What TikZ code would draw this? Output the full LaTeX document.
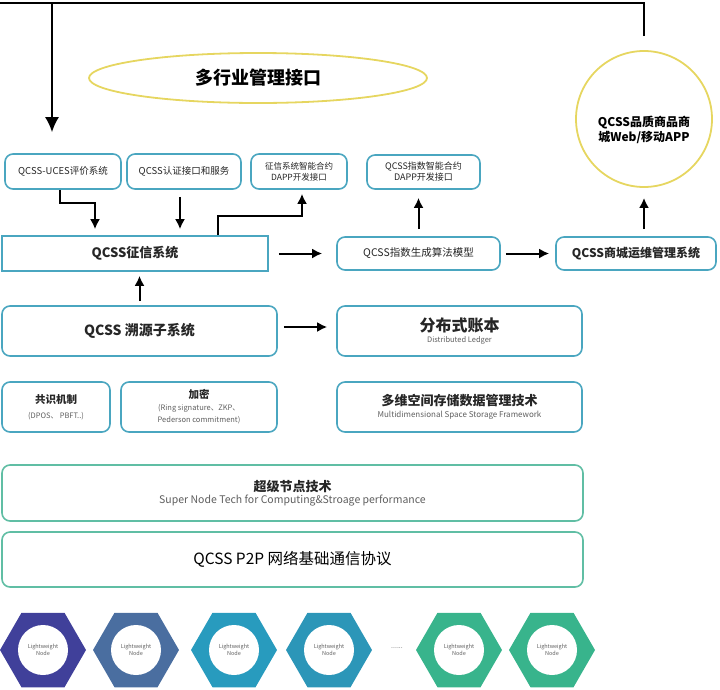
\documentclass[tikz,border=0pt]{standalone}
\usepackage{fontspec}
\setmainfont{Noto Sans CJK SC}
\usetikzlibrary{arrows.meta,shapes.geometric}

\definecolor{boxblue}{RGB}{74,166,192}
\definecolor{boxgreen}{RGB}{96,190,164}
\definecolor{ringyellow}{RGB}{230,214,96}
\definecolor{subgray}{RGB}{95,95,95}
\definecolor{hexA}{RGB}{64,64,154}
\definecolor{hexB}{RGB}{74,110,160}
\definecolor{hexC}{RGB}{40,155,190}
\definecolor{hexD}{RGB}{44,150,184}
\definecolor{hexE}{RGB}{56,180,140}

\newcommand{\fsz}[2]{\fontsize{#1}{#2}\selectfont}

\tikzset{
  card/.style={draw=boxblue, line width=1.6pt, rounded corners=8pt, fill=white,
    inner sep=1pt, align=center, text=black!85},
  basecard/.style={card, draw=boxgreen},
  flow/.style={->, line width=2pt},
  subtext/.style={text=subgray},
}

\begin{document}
\begin{tikzpicture}[x=1pt, y=-1pt, >={Latex[length=10pt,width=10pt]}]
    \useasboundingbox (0,0) rectangle (720,689);

    % 1. 顶部：多行业管理接口（椭圆）与商城（圆）
    \node[ellipse, draw=ringyellow, line width=1.8pt, minimum width=338pt, minimum height=50pt,
        inner sep=0pt, font=\fsz{18}{22}\bfseries] (mgmt) at (258,78) {多行业管理接口};
    \node[circle, draw=ringyellow, line width=1.8pt, minimum size=136pt, inner sep=0pt] (app) at (644,119) {};
    \node[align=center, font=\fsz{12}{15}\bfseries] (apptext) at (644,130) {QCSS品质商品商\\城Web/移动APP};

    % 2. 第一排接口方框
    \node[card, minimum width=116pt, minimum height=35pt, font=\fsz{9.5}{12}] (uces) at (63,171.5) {QCSS-UCES评价系统};
    \node[card, minimum width=114pt, minimum height=35pt, font=\fsz{9.5}{12}] (auth) at (184,171.5) {QCSS认证接口和服务};
    \node[card, minimum width=96pt, minimum height=35pt, font=\fsz{8.5}{11}] (zxdapp) at (299,171.5) {征信系统智能合约\\DAPP开发接口};
    \node[card, minimum width=113pt, minimum height=34pt, font=\fsz{9}{11}] (zsdapp) at (423.5,172) {QCSS指数智能合约\\DAPP开发接口};

    % 3. 第二排：征信系统、指数模型、商城运维
    \node[card, rounded corners=0pt, minimum width=266pt, minimum height=35pt, font=\fsz{13}{16}\bfseries] (zx) at (135,253.5) {QCSS征信系统};
    \node[card, minimum width=163pt, minimum height=33pt, font=\fsz{10.5}{13}] (model) at (418.5,253.5) {QCSS指数生成算法模型};
    \node[card, minimum width=160pt, minimum height=33pt, font=\fsz{12}{15}\bfseries] (mall) at (636,253.5) {QCSS商城运维管理系统};

    % 4. 第三排：溯源子系统、分布式账本
    \node[card, minimum width=275pt, minimum height=50pt, font=\fsz{14}{17}\bfseries] (trace) at (139.5,331) {QCSS 溯源子系统};
    \node[card, minimum width=245pt, minimum height=50pt] (ledger) at (459.5,331)
        {{\fsz{16}{19}\bfseries 分布式账本}\\[-1pt]{\fsz{7.5}{9}\color{subgray} Distributed Ledger}};

    % 5. 第四排：共识机制、加密、多维存储
    \node[card, minimum width=108pt, minimum height=50pt] (consensus) at (56,407)
        {{\fsz{10.5}{13}\bfseries 共识机制}\\[3pt]{\fsz{7.5}{9}\color{subgray}(DPOS、 PBFT..)}};
    \node[card, minimum width=156pt, minimum height=50pt] (crypto) at (199,407)
        {{\fsz{10.5}{13}\bfseries 加密}\\{\fsz{7.5}{9}\color{subgray}(Ring signature、ZKP、}\\{\fsz{7.5}{9}\color{subgray}Pederson commitment)}};
    \node[card, minimum width=245pt, minimum height=50pt] (storage) at (459.5,407)
        {{\fsz{13}{16}\bfseries 多维空间存储数据管理技术}\\{\fsz{8}{10}\color{subgray}Multidimensional Space Storage Framework}};

    % 6. 底层：超级节点、P2P 协议
    \node[basecard, minimum width=581pt, minimum height=56pt] (supernode) at (292.5,493)
        {{\fsz{13}{16}\bfseries 超级节点技术}\\{\fsz{10.5}{13}\color{subgray}Super Node Tech for Computing\&Stroage performance}};
    \node[basecard, minimum width=581pt, minimum height=55pt, text=black, font=\fsz{15.5}{18}] (p2p) at (292.5,559.5) {QCSS P2P 网络基础通信协议};

    % 7. 轻节点（六边形）
    \foreach \cx/\hc [count=\i] in {43/hexA, 136/hexB, 234/hexC, 329/hexD, 459/hexE, 552/hexE} {
        \node[regular polygon, regular polygon sides=6, minimum size=86pt, inner sep=0pt, fill=\hc] (hex\i) at (\cx,650) {};
        \node[circle, fill=white, minimum size=50pt, inner sep=0pt, align=center, subtext, font=\fsz{5.5}{6.5}] (lw\i) at (\cx,650) {Lightweight\\Node};
    }
    \node[subtext, font=\fsz{7}{8}] (gap) at (397,648) {......};

    % 8. 箭头
    \draw[line width=2pt, -{Latex[length=15pt,width=14pt]}, shorten >=21pt]
        ([yshift=14pt]app.north) |- (0,3) -| ([xshift=-11pt]uces.north);
    \draw[flow, shorten >=6pt] ([xshift=-3pt]uces.south) -- ++(0,13) -| ([xshift=-40pt]zx.north);
    \draw[flow, shorten <=7pt, shorten >=6pt] ([xshift=-4pt]auth.south) -- ([xshift=-4pt]auth.south |- zx.north);
    \draw[flow, shorten >=4pt] ([xshift=83pt]zx.north) -- ++(0,-19) -| ([xshift=3pt]zxdapp.south);
    \draw[flow, shorten <=7pt, shorten >=8pt] (model.north) -- (model.north |- zsdapp.south);
    \draw[flow, shorten <=7pt, shorten >=10pt] (app.south |- mall.north) -- (app.south);
    \draw[flow, shorten <=10pt, shorten >=14pt] (zx.east) -- (model.west);
    \draw[flow, shorten <=5pt, shorten >=6pt] (model.east) -- (mall.west);
    \draw[flow, shorten <=4pt, shorten >=4pt] (trace.north) -- (trace.north |- zx.south);
    \draw[flow, shorten <=6pt, shorten >=9pt] ([yshift=4pt]trace.east) -- ([yshift=4pt]ledger.west);

\end{tikzpicture}
\end{document}
